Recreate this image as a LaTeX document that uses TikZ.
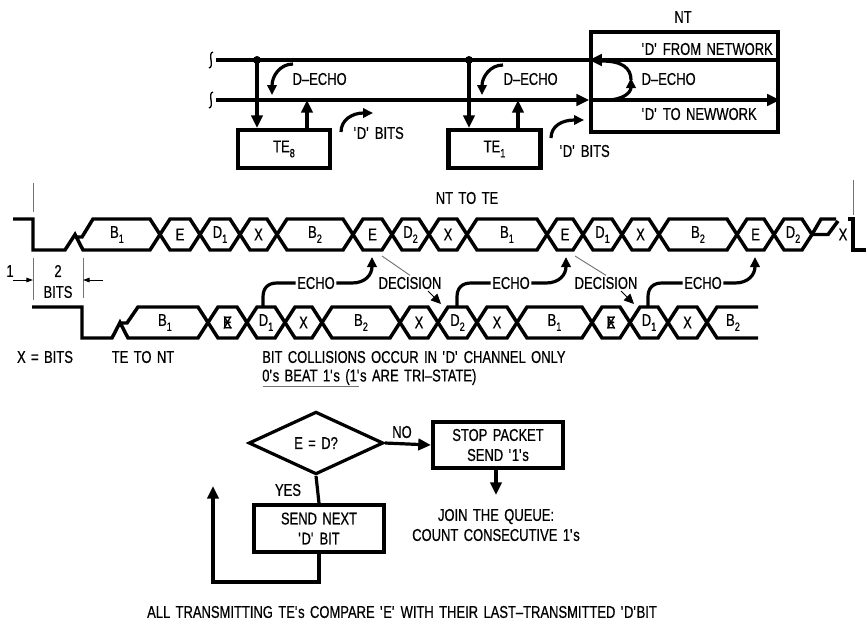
\documentclass[tikz,border=0pt]{standalone}
\usepackage{fontspec}
\setmainfont{Liberation Sans}[FakeStretch=0.76,WordSpace=1.5,FakeBold=0.6]
\usetikzlibrary{arrows.meta,shapes.geometric}
\newcommand\lowidx[1]{\raisebox{-0.55ex}{\small #1}}
\newcommand\tq{\textquotesingle}

\begin{document}
\begin{tikzpicture}[x=0.75pt,y=-0.75pt,
  font=\fontsize{12.8}{15}\selectfont,
  wire/.style={line width=2.4pt},
  trace/.style={line width=2.6pt},
  thinline/.style={line width=0.7pt,black!55},
  arr/.style={-{Triangle[length=9.5pt,width=8.5pt]}},
  smallarr/.style={-{Triangle[length=7.5pt,width=7pt]}},
  dimarr/.style={-{Triangle[length=5pt,width=3.5pt]}},
  tebox/.style={draw,line width=3.1pt,minimum width=69pt,minimum height=28.5pt,inner sep=0pt},
  flowbox/.style={draw,line width=3.1pt,minimum width=97.5pt,minimum height=35pt,align=center,inner sep=0pt},
  cell/.style={inner sep=0pt},
  lbl/.style={inner sep=1pt}]
\useasboundingbox (0,0) rectangle (866,625);

% bus, terminals and NT
\node[tebox] (te8) at (284,149) {TE\lowidx{8}};
\node[tebox] (te1) at (494.5,149) {TE\lowidx{1}};
\node[draw,line width=3.1pt,minimum width=140pt,minimum height=75pt] (nt) at (684.5,82) {};
\node (ntname) at (683,17) {NT};
\node[lbl,anchor=west] (fromnet) at (640,49) {\tq D\tq\ FROM NETWORK};
\node[lbl,anchor=west] (ntecho) at (640,79) {D\textendash ECHO};
\node[lbl,anchor=west] (tonet) at (640,114) {\tq D\tq\ TO NEWWORK};
\coordinate (rxin) at (216,60);
\coordinate (txin) at (216,100);
\coordinate (j8) at (257,60);
\coordinate (j1) at (469,60);
\coordinate (u8) at (307,100);
\coordinate (u1) at (518,100);
\draw[wire] (rxin) -- (nt.west |- rxin);
\draw[wire,arr] (nt.east |- rxin) -- (nt.west |- rxin);
\draw[wire,arr] (txin) -- (nt.west |- txin);
\draw[wire,arr] (nt.west |- txin) -- (nt.east |- txin);
\draw[line width=1pt] (213,52) .. controls (207,53) and (215,67) .. (209,68);
\draw[line width=1pt] (213,92) .. controls (207,93) and (215,107) .. (209,108);
\fill (j8) circle (3pt);
\fill (j1) circle (3pt);
\draw[wire,arr] (j8) -- (te8.north -| j8);
\draw[wire,arr] (te8.north -| u8) -- (u8);
\draw[wire,arr] (j1) -- (te1.north -| j1);
\draw[wire,arr] (te1.north -| u1) -- (u1);
% echo and D-bit hints
\draw[wire,smallarr] (293,64) .. controls (280,64) and (272,76) .. (272,95);
\node[lbl,anchor=west] (echo8) at (291,79) {D\textendash ECHO};
\draw[wire,smallarr] (341,132) .. controls (341,120) and (352,113) .. (373,113);
\node[lbl,anchor=west] (bits8) at (352,133) {\tq D\tq\ BITS};
\draw[wire,smallarr] (503,65) .. controls (490,65) and (482,77) .. (482,95);
\node[lbl,anchor=west] (echo1) at (502,79) {D\textendash ECHO};
\draw[wire,smallarr] (551,138) .. controls (551,126) and (562,120) .. (584,120);
\node[lbl,anchor=west] (bits1) at (558,151) {\tq D\tq\ BITS};
\draw[wire,smallarr] (606,100) .. controls (624,100) and (631,92) .. (631,78);
\draw[wire] (631,80) .. controls (631,68) and (622,61) .. (602,61);

% NT to TE
\node (nttote) at (467,198) {NT TO TE};
\draw[thinline] (33,183) -- (33,212);
\draw[thinline] (853,180) -- (853,215);
\draw[trace] (13,219) -- (33,219) -- (33,250) -- (65,250) -- (75,234.5) -- (83,250) -- (150,250)
  -- (160,234.5) -- (150,219) -- (93,219) -- (82,237) -- (75,237);
\node[cell] (nt0) at (117,234.5) {B\lowidx{1}};
\foreach \a/\b/\t [count=\i] in {160/200/E, 200/240/D\lowidx{1}, 240/277/X, 277/353/B\lowidx{2},
  353/392/E, 392/429/D\lowidx{2}, 429/467/X, 467/547/B\lowidx{1}, 547/583/E, 583/622/D\lowidx{1},
  622/659/X, 659/737/B\lowidx{2}, 737/774/E, 774/812/D\lowidx{2}}{
  \draw[trace] (\a,234.5) -- (\a+10,219) -- (\b-10,219) -- (\b,234.5) -- (\b-10,250) -- (\a+10,250) -- cycle;
  \node[cell] (nt\i) at ({(\a+\b)/2},234.5) {\t};
}
\draw[trace] (812,234.5) -- (821,219) -- (836,219);
\draw[trace] (812,234.5) -- (828,234.5) -- (838,221);
\node[cell] (ntx) at (843,234.5) {X};
\draw[trace] (848,219) -- (853,219) -- (853,250) -- (866,250);

% TE to NT
\draw[trace] (32,307) -- (82,307) -- (82,338) -- (112,338) -- (120,322.5) -- (128,338) -- (198,338)
  -- (208,322.5) -- (198,307) -- (138,307) -- (127,323) -- (120,323);
\node[cell] (te0) at (165,322.5) {B\lowidx{1}};
\foreach \a/\b/\t [count=\i] in {208/247/\rlap{E}X, 247/285/D\lowidx{1}, 285/322/X, 322/400/B\lowidx{2},
  400/438/X, 438/477/D\lowidx{2}, 477/517/X, 517/592/B\lowidx{1}, 592/630/\rlap{E}X,
  630/668/D\lowidx{1}, 668/707/X}{
  \draw[trace] (\a,322.5) -- (\a+10,307) -- (\b-10,307) -- (\b,322.5) -- (\b-10,338) -- (\a+10,338) -- cycle;
  \node[cell] (te\i) at ({(\a+\b)/2},322.5) {\t};
}
\draw[trace] (758,307) -- (717,307) -- (707,322.5) -- (717,338) -- (758,338);
\node[cell] (teend) at (733,322.5) {B\lowidx{2}};

% bit width
\draw[thinline] (33,258) -- (33,300);
\draw[thinline] (83,258) -- (83,298);
\draw[thinline,black,dimarr] (13,280) -- (33,280);
\draw[thinline,black,dimarr] (103,280) -- (83,280);
\node (one) at (10,271) {1};
\node (two) at (58,271) {2};
\node (bits) at (58,292) {BITS};

% echo and decision
\coordinate (loD1) at (263,307);
\coordinate (upE1) at (372,257);
\coordinate (loD2) at (457,307);
\coordinate (upE2) at (566,257);
\coordinate (loD3) at (648,307);
\coordinate (upE3) at (755,257);
\node[lbl] (echoA) at (316,283) {ECHO};
\node[lbl] (echoB) at (511,283) {ECHO};
\node[lbl] (echoC) at (703,283) {ECHO};
\draw[wire] (loD1) -- (263,297) .. controls (263,288) and (268,283) .. (277,283) -- (echoA.west);
\draw[wire,smallarr] (echoA.east) -- (352,283) .. controls (365,283) and (372,275) .. (upE1);
\draw[wire] (loD2) -- (457,297) .. controls (457,288) and (462,283) .. (471,283) -- (echoB.west);
\draw[wire,smallarr] (echoB.east) -- (546,283) .. controls (559,283) and (566,275) .. (upE2);
\draw[wire] (loD3) -- (648,297) .. controls (648,288) and (653,283) .. (662,283) -- (echoC.west);
\draw[wire,smallarr] (echoC.east) -- (735,283) .. controls (748,283) and (755,275) .. (upE3);
\node[lbl] (decA) at (410,283) {DECISION};
\node[lbl] (decB) at (606,283) {DECISION};
\coordinate (toD2) at (441,304);
\coordinate (toD1) at (634,304);
\draw[thinline] (382,256) -- (decA.north);
\draw[thinline,black,smallarr] (428,291) -- (toD2);
\draw[thinline] (575,256) -- (decB.north);
\draw[thinline,black,smallarr] (621,291) -- (toD1);

% notes
\node (xbits) at (45,357) {X = BITS};
\node (tetont) at (143,357) {TE TO NT};
\node[anchor=west,inner sep=0pt] (collide) at (262,357) {BIT COLLISIONS OCCUR IN \tq D\tq\ CHANNEL ONLY};
\node[anchor=west,inner sep=0pt] (beat) at (262,377) {0\tq s BEAT 1\tq s (1\tq s ARE TRI\textendash STATE)};
\draw[thinline] (263,386) -- (359,386);

% decision flow
\node[diamond,draw,wire,minimum width=101pt,minimum height=47pt,inner sep=0pt] (test) at (316,443) {E = D?};
\node[flowbox] (stop) at (498,445) {STOP PACKET\\SEND \tq 1\tq s};
\node[flowbox] (send) at (319,528.5) {SEND NEXT\\\tq D\tq\ BIT};
\node[align=center] (join) at (496,525) {JOIN THE QUEUE:\\COUNT CONSECUTIVE 1\tq s};
\coordinate (joinarr) at (496,495);
\coordinate (loopend) at (213,486);
\draw[wire,arr] (test.east) -- (stop.west);
\node (no) at (402,432) {NO};
\draw[wire] (test.south) -- (send.north);
\node (yes) at (288,490) {YES};
\draw[wire,arr] (stop.south -| joinarr) -- (joinarr);
\draw[wire,arr] (send.south) -- ++(0,28) -| (loopend);
\node (summary) at (402,612) {ALL TRANSMITTING TE\tq s COMPARE \tq E\tq\ WITH THEIR LAST\textendash TRANSMITTED \tq D\tq BIT};
\end{tikzpicture}
\end{document}
